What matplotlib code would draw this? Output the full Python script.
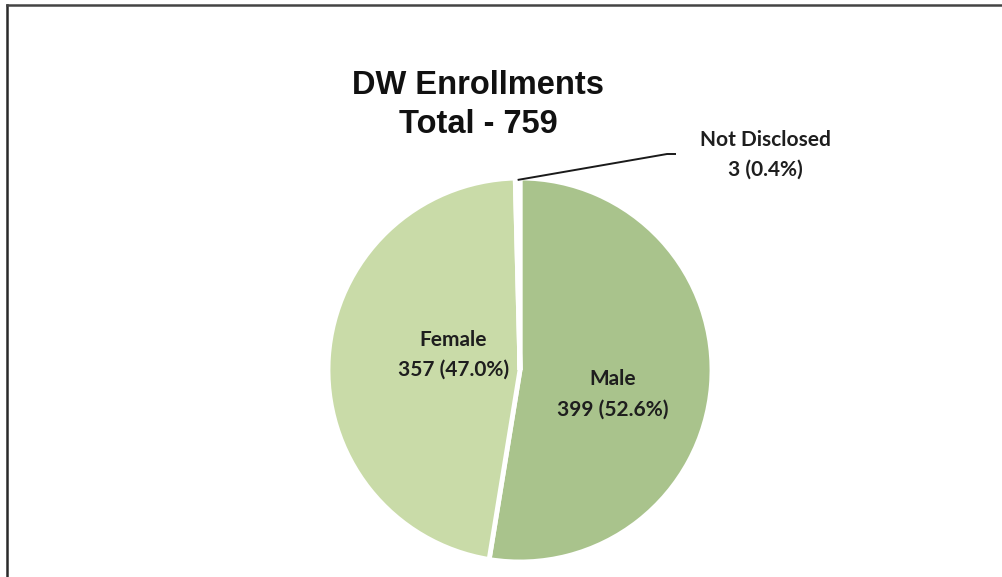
import matplotlib
matplotlib.use("Agg")
import matplotlib.pyplot as plt
from matplotlib.lines import Line2D
import numpy as np

categories = ["Male", "Female", "Not Disclosed"]
counts = [399, 357, 3]
percents = ["52.6%", "47.0%", "0.4%"]
colors = ["#a9c38c", "#c9dba8", "#e4efd8"]
title_lines = ["DW Enrollments", "Total - 759"]

W, H = 1002, 577
fig = plt.figure(figsize=(W / 100, H / 100), dpi=100)
fig.patch.set_facecolor("white")

cx, cy, r = 520, 370, 192
ax = fig.add_axes([(cx - r) / W, (H - cy - r) / H, 2 * r / W, 2 * r / H])
wedges, _ = ax.pie(counts, colors=colors, startangle=90, counterclock=False,
                   radius=1.0, wedgeprops=dict(edgecolor="white", linewidth=3.5))
ax.set_xlim(-1, 1)
ax.set_ylim(-1, 1)
ax.set_aspect("equal")
ax.axis("off")

lab_font = dict(family=["Lato", "DejaVu Sans"], fontweight="bold", fontsize=15,
                color="#1e1e1e", ha="center", va="center", linespacing=1.62)

def mid_angle(w):
    return np.deg2rad((w.theta1 + w.theta2) / 2)

# Male label
a = mid_angle(wedges[0]) - np.deg2rad(10)
ax.text(0.5 * np.cos(a), 0.5 * np.sin(a), f"{categories[0]}\n{counts[0]} ({percents[0]})",
        **lab_font, clip_on=False)
# Female label
a = mid_angle(wedges[1]) - np.deg2rad(9)
ax.text(0.357 * np.cos(a), 0.357 * np.sin(a), f"{categories[1]}\n{counts[1]} ({percents[1]})",
        **lab_font, clip_on=False)
# Not disclosed with leader
a = mid_angle(wedges[2])
x0, y0 = 0.99 * np.cos(a), 0.99 * np.sin(a)
ax.plot([x0, 0.766, 0.8125], [y0, 1.125, 1.125], color="#1a1a1a", lw=1.4,
        clip_on=False, solid_capstyle="butt")
ax.text(1.276, 1.12, f"{categories[2]}\n{counts[2]} ({percents[2]})",
        **lab_font, clip_on=False)

fig.text(478 / W, 1 - 105 / H, "\n".join(title_lines), ha="center", va="center",
         family=["Liberation Sans", "DejaVu Sans"], fontweight="bold", fontsize=23.5,
         color="#111111", linespacing=1.32)

# frame (left and top only, as in the scan)
fig.add_artist(Line2D([6.5 / W, 6.5 / W], [0, 1 - 5 / H], color="#2a2a2a", lw=1.8))
fig.add_artist(Line2D([6.5 / W, 1.0], [1 - 5 / H, 1 - 5 / H], color="#444444", lw=1.8))

fig.savefig("out.png", dpi=100, facecolor="white")
